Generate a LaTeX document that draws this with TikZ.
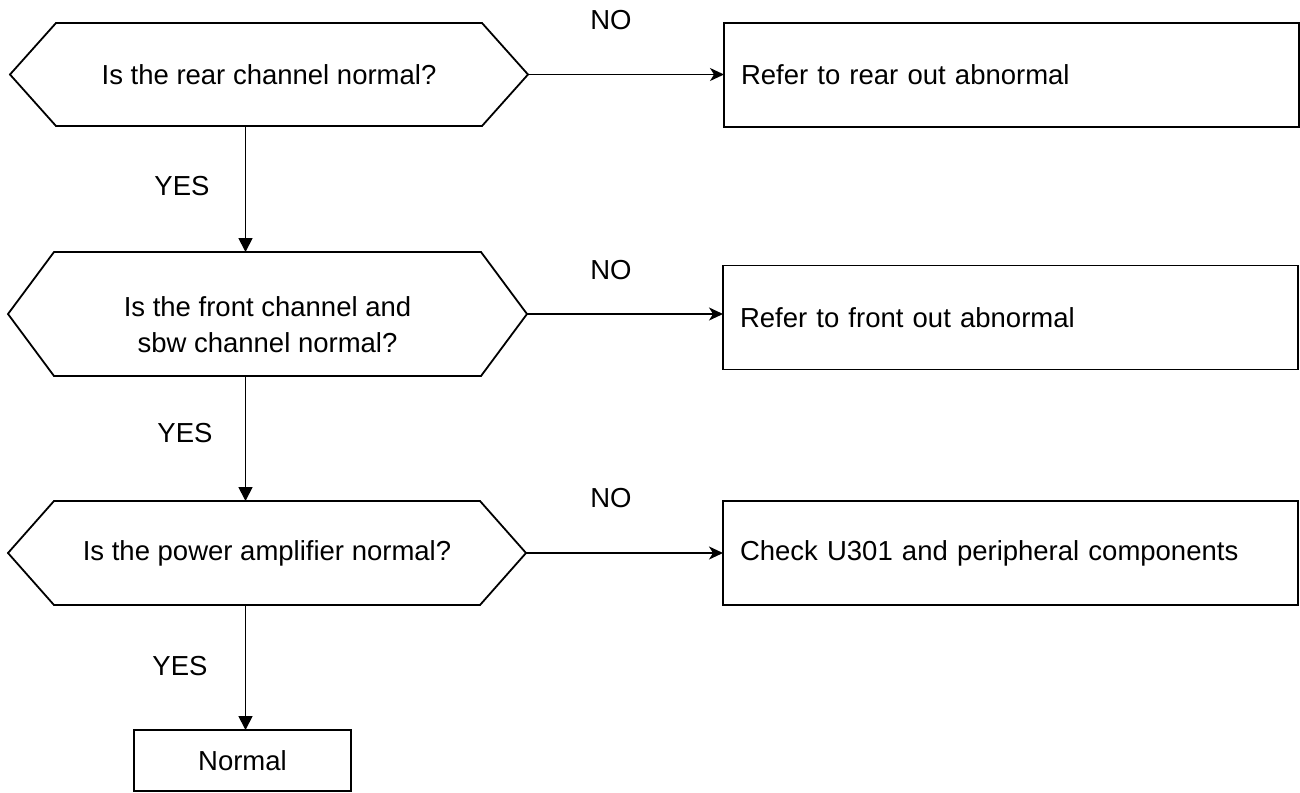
\documentclass[tikz,border=0pt]{standalone}
\usepackage{fontspec}
\setmainfont{Liberation Sans}
\usetikzlibrary{arrows.meta}

\begin{document}
\begin{tikzpicture}[x=1pt, y=-1pt, line width=1.8pt,
  every node/.style={font=\fontsize{27.5}{36}\selectfont},
  hexframe/.style={draw=none, inner sep=0pt, outer sep=0pt, align=center},
  outbox/.style={draw, rectangle, minimum width=575pt, minimum height=104pt,
    inner xsep=17pt, text width=541pt, align=left, outer sep=0pt},
  endbox/.style={draw, rectangle, minimum width=217pt, minimum height=61pt,
    inner sep=0pt, outer sep=0pt},
  lbl/.style={inner sep=0pt},
  noarrow/.style={-{Stealth[length=14pt, width=13pt, inset=4pt]}},
  yesarrow/.style={-{Triangle[length=14pt, width=14pt]}}
]
\useasboundingbox (0,0) rectangle (1300,792);

% decision nodes (the hexagon outline is drawn from their anchors)
\node[hexframe, minimum width=518pt, minimum height=103pt] (q1) at (269,74.5)
  {Is the rear channel normal?};
\node[hexframe, minimum width=519pt, minimum height=124pt] (q2) at (267.5,314) {};
\node[hexframe] (q2text) at ([yshift=-11pt]q2.center)
  {Is the front channel and\\sbw channel normal?};
\node[hexframe, minimum width=518pt, minimum height=104pt] (q3) at (267,553)
  {Is the power amplifier normal?};

\foreach \q in {q1,q2,q3}{
  \draw (\q.west) -- ([xshift=46pt]\q.north west) -- ([xshift=-46pt]\q.north east)
    -- (\q.east) -- ([xshift=-46pt]\q.south east) -- ([xshift=46pt]\q.south west) -- cycle;
}

% action boxes
\node[outbox] (a1) at (1011.5,75) {Refer to rear out abnormal};
\node[outbox] (a2) at (1010.5,317.5) {Refer to front out abnormal};
\node[outbox] (a3) at (1010.5,553) {Check U301 and peripheral components};
\node[endbox] (done) at (242.5,760.5) {Normal};

% NO branches
\draw[noarrow] (q1.east) -- (q1.east -| a1.west);
\draw[noarrow] (q2.east) -- (q2.east -| a2.west);
\draw[noarrow] (q3.east) -- (q3.east -| a3.west);
\node[lbl] (no1) at (611,20) {NO};
\node[lbl] (no2) at (611,270) {NO};
\node[lbl] (no3) at (611,498) {NO};

% YES branches
\coordinate (spine) at (245.5,0);
\draw[yesarrow] (q1.south -| spine) -- (q2.north -| spine);
\draw[yesarrow] (q2.south -| spine) -- (q3.north -| spine);
\draw[yesarrow] (q3.south -| spine) -- (done.north -| spine);
\node[lbl] (yes1) at (182,186) {YES};
\node[lbl] (yes2) at (185,433) {YES};
\node[lbl] (yes3) at (180,666) {YES};
\end{tikzpicture}
\end{document}
